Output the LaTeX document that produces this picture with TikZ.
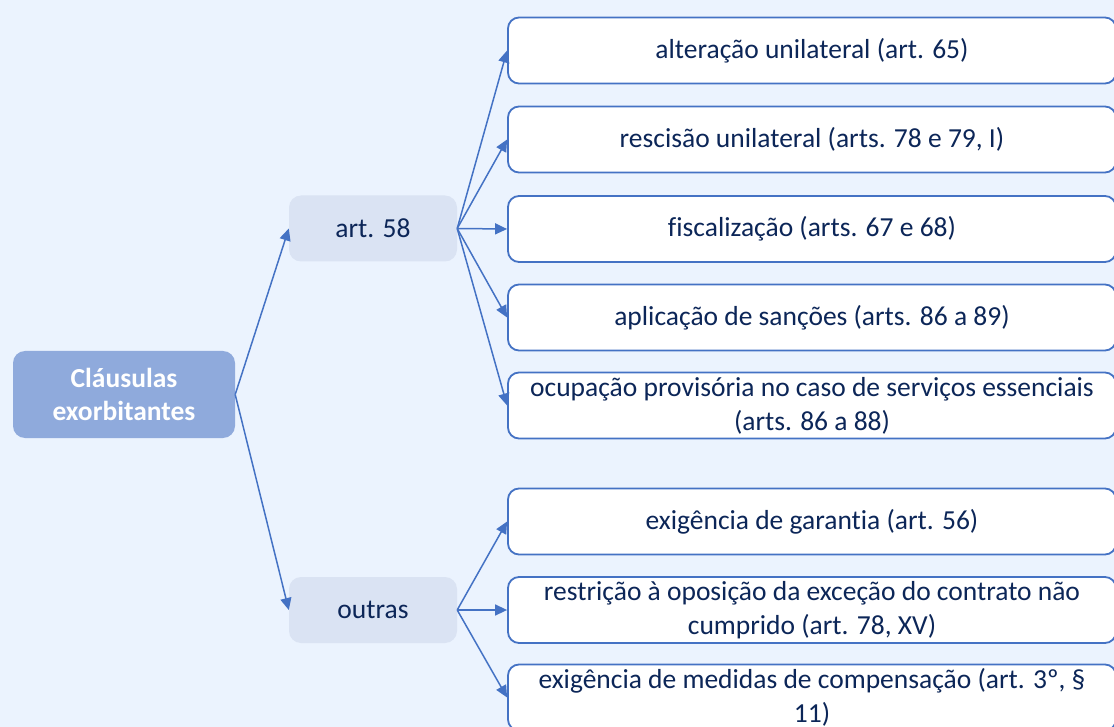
\documentclass[tikz,border=0pt]{standalone}
\usepackage{fontspec}
\setmainfont{Carlito}[Ligatures=NoCommon]
\usetikzlibrary{arrows.meta}
\definecolor{bgc}{HTML}{EBF3FE}
\definecolor{rootc}{HTML}{8FAADC}
\definecolor{midc}{HTML}{DAE3F3}
\definecolor{linec}{HTML}{4472C4}
\definecolor{txtc}{HTML}{0C2658}
\begin{document}
\begin{tikzpicture}[x=1pt,y=-1pt,
  rootbox/.style={rectangle, rounded corners=12pt, fill=rootc, text=white,
    minimum width=222pt, minimum height=87pt, inner sep=0pt, align=center,
    font=\fontsize{27.5}{33}\selectfont\bfseries},
  midbox/.style={rectangle, rounded corners=12pt, fill=midc, text=txtc,
    minimum width=168pt, minimum height=66pt, inner sep=0pt, align=center,
    font=\fontsize{27.5}{34}\selectfont},
  leafbox/.style={rectangle, rounded corners=11pt, fill=white, draw=linec, line width=1.8pt,
    text=txtc, minimum width=608pt, minimum height=66pt, inner sep=0pt, align=center,
    font=\fontsize{27.5}{34}\selectfont},
  conn/.style={draw=linec, line width=1.5pt, -{Triangle[length=12pt,width=11pt]}}
]
\fill[bgc] (0,0) rectangle (1114,727);
\useasboundingbox (0,0) rectangle (1114,727);

\node[rootbox] (root) at (124,394.5) {Cláusulas\\exorbitantes};
\node[midbox] (a58) at (373,228.5) {art. 58};
\node[midbox] (outras) at (373,610) {outras};

\node[leafbox] (l1) at (812,50.5) {alteração unilateral (art. 65)};
\node[leafbox] (l2) at (812,139.5) {rescisão unilateral (arts. 78 e 79, I)};
\node[leafbox] (l3) at (812,229) {fiscalização (arts. 67 e 68)};
\node[leafbox] (l4) at (812,317.5) {aplicação de sanções (arts. 86 a 89)};
\node[leafbox] (l5) at (812,405.5) {ocupação provisória no caso de serviços essenciais\\(arts. 86 a 88)};
\node[leafbox] (l6) at (812,521.5) {exigência de garantia (art. 56)};
\node[leafbox] (l7) at (812,610) {restrição à oposição da exceção do contrato não\\cumprido (art. 78, XV)};
\node[leafbox] (l8) at (812,697.5) {exigência de medidas de compensação (art. 3º, §\\11)};

\draw[conn] (root.east) -- (a58.west);
\draw[conn] (root.east) -- (outras.west);
\foreach \n in {l1,l2,l3,l4,l5}{\draw[conn] (a58.east) -- (\n.west);}
\foreach \n in {l6,l7,l8}{\draw[conn] (outras.east) -- (\n.west);}
\end{tikzpicture}
\end{document}
